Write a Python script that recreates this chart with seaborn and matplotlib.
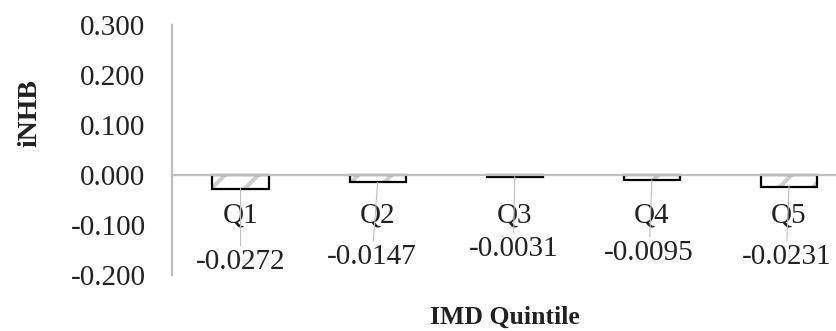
import matplotlib
matplotlib.use("Agg")
import matplotlib.pyplot as plt
from matplotlib.patches import Rectangle
import seaborn as sns
import pandas as pd

# Concentration index of iNHB by IMD quintile
quintiles = ["Q1", "Q2", "Q3", "Q4", "Q5"]
inhb = [-0.0272, -0.0147, -0.0031, -0.0095, -0.0231]
y_ticks = [-0.2, -0.1, 0.0, 0.1, 0.2, 0.3]

# offsets (points) of each value label from the bar end
label_dx = [0, -4, -1, -2, -2]
label_dy = [-53, -54, -52, -53, -51]

sns.set_style("white")
plt.rcParams["font.family"] = ["Liberation Serif", "DejaVu Serif"]
plt.rcParams["hatch.linewidth"] = 3.0

AXIS_GREY = "#BFBFBF"
HATCH_GREY = "#CFCFCF"
W, H = 837, 331
fig = plt.figure(figsize=(W / 100, H / 100), dpi=100)
ax = fig.add_axes([172 / W, 1 - 275 / H, (W - 172) / W, 250 / H])

df = pd.DataFrame({"quintile": quintiles, "inhb": inhb})
sns.barplot(data=df, x="quintile", y="inhb", color="white", saturation=1,
            width=0.41, ax=ax, edgecolor=HATCH_GREY, linewidth=0)

for p in list(ax.patches):
    p.set_hatch("/")
    p.set_edgecolor(HATCH_GREY)
    p.set_linewidth(0)
    outline = Rectangle(p.get_xy(), p.get_width(), p.get_height(),
                        fill=False, edgecolor="black", linewidth=1.6, zorder=2)
    ax.add_patch(outline)

ax.set_ylim(-0.2, 0.3)
ax.set_xlim(-0.5, 4.35)
ax.set_yticks(y_ticks)
ax.set_yticklabels([f"{t:.3f}" if abs(t) > 1e-9 else "0.000" for t in y_ticks],
                   fontsize=21, color="#222222")
ax.tick_params(axis="y", length=0, pad=19)
ax.tick_params(axis="x", length=0, pad=20, labelsize=21, labelcolor="#222222")
ax.set_xlabel("")
ax.set_ylabel("")

for side in ("top", "right"):
    ax.spines[side].set_visible(False)
for side in ("left", "bottom"):
    ax.spines[side].set_color(AXIS_GREY)
    ax.spines[side].set_linewidth(1.6)
    ax.spines[side].set_zorder(3)
ax.spines["bottom"].set_position(("data", 0))

for i, v in enumerate(inhb):
    ax.annotate(f"{v:.4f}", xy=(i, v), xytext=(label_dx[i], label_dy[i]),
                textcoords="offset points", ha="center", va="center",
                fontsize=21, color="#222222",
                arrowprops=dict(arrowstyle="-", color=AXIS_GREY, lw=0.8,
                                shrinkA=0, shrinkB=0))

fig.text(30 / W, 1 - 113 / H, "iNHB", rotation=90, fontsize=20,
         fontweight="bold", ha="center", va="center", color="#222222")
fig.text(505 / W, 1 - 317 / H, "IMD Quintile", fontsize=18.5,
         fontweight="bold", ha="center", va="center", color="#222222")

fig.savefig("out.png", dpi=100)
